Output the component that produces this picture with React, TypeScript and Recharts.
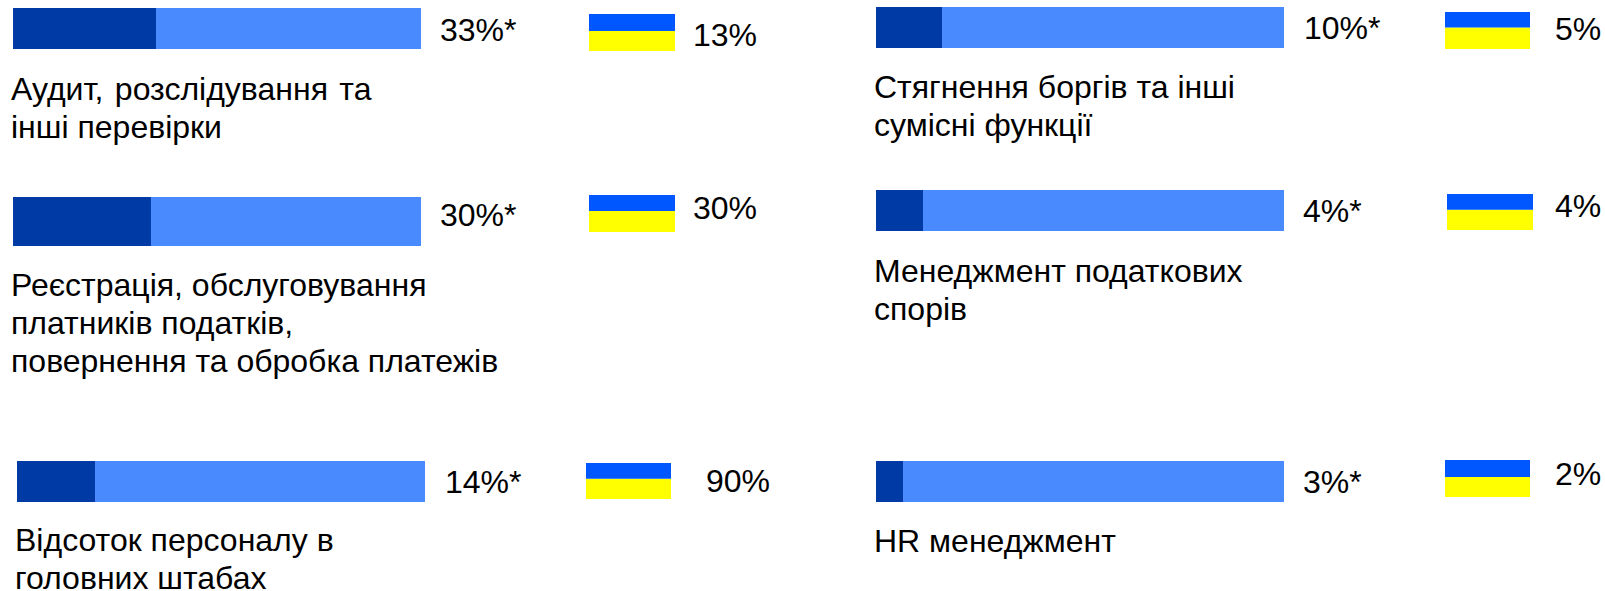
import { BarChart, Bar, XAxis, YAxis } from "recharts";

const W = 1605;
const H = 591;
const FONT = "'Liberation Sans', Arial, sans-serif";

const categories = [
  ["Аудит, розслідування та", "інші перевірки"],
  ["Реєстрація, обслуговування", "платників податків,", "повернення та обробка платежів"],
  ["Відсоток персоналу в", "головних штабах"],
  ["Стягнення боргів та інші", "сумісні функції"],
  ["Менеджмент податкових", "спорів"],
  ["HR менеджмент"],
];

// share of the bar drawn dark (not the printed label)
const darkShare = [35.05, 33.82, 19.12, 16.18, 11.52, 6.62];
const lightShare = [64.95, 66.18, 80.88, 83.82, 88.48, 93.38];
const barLabels = ["33%*", "30%*", "14%*", "10%*", "4%*", "3%*"];

const flagBlue = [46, 43, 44, 42, 44, 46];
const flagYellow = [54, 57, 56, 58, 56, 54];
const flagLabels = ["13%", "30%", "90%", "5%", "4%", "2%"];

// where each panel sits on the page
const panels = [
  { bar: [13, 8, 408, 41], flag: [589, 14, 86, 37], barText: [440, 41], flagText: [693, 46], text: [11, 100], wordGap: 2.5 },
  { bar: [13, 197, 408, 49], flag: [589, 195, 86, 37], barText: [440, 226], flagText: [693, 219], text: [11, 296], wordGap: 0 },
  { bar: [17, 461, 408, 41], flag: [586, 463, 85, 36], barText: [445, 493], flagText: [706, 492], text: [15, 551], wordGap: 0 },
  { bar: [876, 7, 408, 41], flag: [1445, 12, 85, 37], barText: [1304, 39], flagText: [1555, 40], text: [874, 98], wordGap: 0 },
  { bar: [876, 190, 408, 41], flag: [1447, 194, 86, 36], barText: [1303, 222], flagText: [1555, 217], text: [874, 282], wordGap: 0 },
  { bar: [876, 461, 408, 41], flag: [1445, 460, 85, 37], barText: [1303, 493], flagText: [1555, 485], text: [874, 552], wordGap: 0 },
];

const LINE = 38;

function place([left, top, width, height]: number[]) {
  return { position: "absolute" as const, left, top, width, height };
}

function ShareBar({ i }: { i: number }) {
  const [, , width, height] = panels[i].bar;
  return (
    <div style={place(panels[i].bar)}>
      <BarChart
        width={width}
        height={height}
        layout="vertical"
        data={[{ name: "share", dark: darkShare[i], light: lightShare[i] }]}
        margin={{ top: 0, right: 0, bottom: 0, left: 0 }}
        barCategoryGap={0}
      >
        <XAxis type="number" domain={[0, 100]} hide />
        <YAxis type="category" dataKey="name" hide />
        <Bar dataKey="dark" stackId="a" fill="#003AA5" isAnimationActive={false} />
        <Bar dataKey="light" stackId="a" fill="#4A8AFF" isAnimationActive={false} />
      </BarChart>
    </div>
  );
}

function Flag({ i }: { i: number }) {
  const [, , width, height] = panels[i].flag;
  return (
    <div style={place(panels[i].flag)}>
      <BarChart
        width={width}
        height={height}
        data={[{ name: "flag", blue: flagBlue[i], yellow: flagYellow[i] }]}
        margin={{ top: 0, right: 0, bottom: 0, left: 0 }}
        barCategoryGap={0}
      >
        <XAxis dataKey="name" hide />
        <YAxis type="number" domain={[0, 100]} hide />
        <Bar dataKey="yellow" stackId="f" fill="#FFFF00" isAnimationActive={false} />
        <Bar dataKey="blue" stackId="f" fill="#0057FF" isAnimationActive={false} />
      </BarChart>
    </div>
  );
}

export default function App() {
  return (
    <div style={{ position: "absolute", left: 0, top: 0, width: W, height: H, background: "#fff", overflow: "hidden" }}>
      {panels.map((_, i) => (
        <div key={i}>
          <ShareBar i={i} />
          <Flag i={i} />
        </div>
      ))}
      <svg width={W} height={H} style={{ position: "absolute", left: 0, top: 0 }} fontFamily={FONT} fontSize={32} fill="#000">
        {panels.map((p, i) => (
          <g key={i}>
            <text x={p.barText[0]} y={p.barText[1]}>{barLabels[i]}</text>
            <text x={p.flagText[0]} y={p.flagText[1]}>{flagLabels[i]}</text>
            {categories[i].map((line, j) => (
              <text key={j} x={p.text[0]} y={p.text[1] + j * LINE} wordSpacing={j === 0 ? p.wordGap : 0}>{line}</text>
            ))}
          </g>
        ))}
      </svg>
    </div>
  );
}
